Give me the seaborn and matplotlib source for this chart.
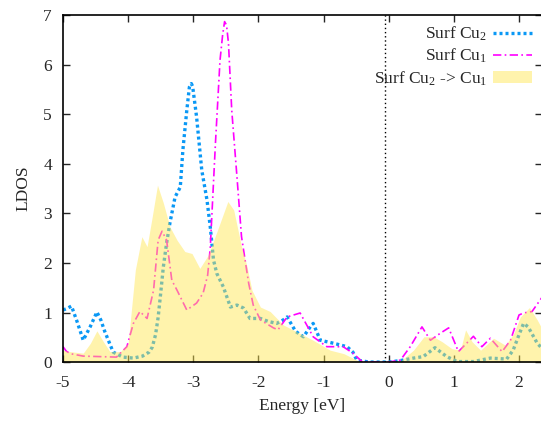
import matplotlib
matplotlib.use("Agg")
import matplotlib.pyplot as plt
import seaborn as sns
import numpy as np
import pandas as pd
from matplotlib.patches import Patch
from matplotlib.lines import Line2D

# Surf Cu2 LDOS (blue dotted)
e_cu2 = [-5.0, -4.94, -4.87, -4.78, -4.69, -4.58, -4.48, -4.42, -4.36, -4.23, -4.08, -3.92, -3.78,
         -3.68, -3.63, -3.58, -3.54, -3.50, -3.46, -3.41, -3.36, -3.28, -3.20, -3.16, -3.10, -3.06,
         -3.03, -3.01, -2.95, -2.87, -2.79, -2.74, -2.69, -2.64, -2.54, -2.43, -2.38, -2.33, -2.23,
         -2.13, -1.97, -1.85, -1.72, -1.62, -1.56, -1.43, -1.31, -1.20, -1.16, -1.05, -0.85,
         -0.64, -0.55, -0.49, -0.3, 0.0, 0.18, 0.38, 0.53, 0.71, 0.89, 1.05,
         1.30, 1.56, 1.81, 1.91, 2.0, 2.07, 2.14, 2.28, 2.35]
ldos_cu2 = [1.05, 1.08, 1.13, 0.8, 0.44, 0.72, 1.01, 0.85, 0.62, 0.2, 0.1, 0.08, 0.12,
            0.2, 0.3, 0.55, 0.9, 1.4, 1.92, 2.4, 2.8, 3.33, 3.53, 4.28, 5.08, 5.55,
            5.62, 5.56, 4.95, 3.87, 3.27, 2.73, 2.06, 1.79, 1.52, 1.11, 1.13, 1.15, 1.09,
            0.88, 0.88, 0.82, 0.78, 0.85, 0.91, 0.62, 0.51, 0.72, 0.78, 0.44, 0.38,
            0.31, 0.2, 0.04, 0.0, 0.0, 0.03, 0.08, 0.11, 0.29, 0.11, 0.01,
            0.01, 0.08, 0.06, 0.24, 0.55, 0.78, 0.71, 0.38, 0.28]

# Surf Cu1 LDOS (magenta dash-dot)
e_cu1 = [-5.0, -4.95, -4.89, -4.69, -4.43, -4.18, -4.02, -3.92, -3.82, -3.71, -3.61, -3.54, -3.48,
         -3.41, -3.33, -3.25, -3.10, -2.95, -2.85, -2.78, -2.74, -2.66, -2.59, -2.55, -2.52, -2.49,
         -2.46, -2.41, -2.33, -2.26, -2.15, -2.08, -1.97, -1.77, -1.70, -1.56, -1.36, -1.16,
         -0.95, -0.70, -0.55, -0.41, -0.2, 0.0, 0.18, 0.33, 0.51, 0.64, 0.79, 0.92, 1.07,
         1.30, 1.43, 1.56, 1.74, 1.87, 2.00, 2.07, 2.20, 2.35]
ldos_cu1 = [0.31, 0.22, 0.17, 0.12, 0.11, 0.10, 0.31, 0.78, 1.02, 0.88, 1.45, 2.46, 2.64,
            2.46, 1.65, 1.45, 1.05, 1.19, 1.39, 1.75, 2.3, 4.42, 6.09, 6.6, 6.87, 6.8,
            6.43, 5.08, 3.74, 2.53, 1.59, 1.15, 0.85, 0.69, 0.65, 0.91, 0.99, 0.51,
            0.31, 0.31, 0.18, 0.01, 0.0, 0.0, 0.04, 0.31, 0.71, 0.44, 0.58, 0.69, 0.21,
            0.52, 0.31, 0.48, 0.21, 0.44, 0.95, 0.99, 1.02, 1.30]

# Surf Cu2 -> Cu1 (yellow filled)
e_fill = [-5.0, -4.89, -4.69, -4.58, -4.48, -4.38, -4.28, -4.12, -4.0, -3.89, -3.79, -3.71,
          -3.64, -3.55, -3.46, -3.36, -3.25, -3.13, -3.02, -2.90, -2.77, -2.61, -2.47, -2.38,
          -2.26, -2.18, -2.10, -1.97, -1.82, -1.62, -1.41, -1.16, -0.90, -0.69, -0.49, -0.44,
          0.0, 0.18, 0.38, 0.54, 0.69, 0.82, 0.97, 1.10, 1.18, 1.28, 1.41, 1.61, 1.79, 1.92,
          2.02, 2.16, 2.28, 2.35]
ldos_fill = [0.24, 0.21, 0.18, 0.38, 0.63, 0.41, 0.21, 0.21, 0.38, 1.86, 2.53, 2.33,
             2.86, 3.57, 3.21, 2.73, 2.46, 2.23, 2.19, 1.89, 2.16, 2.73, 3.24, 3.07,
             2.33, 1.95, 1.45, 1.11, 1.02, 0.75, 0.61, 0.44, 0.24, 0.17, 0.04, 0.0,
             0.0, 0.02, 0.24, 0.51, 0.51, 0.41, 0.27, 0.24, 0.65, 0.41, 0.24, 0.48, 0.34, 0.58,
             0.91, 1.10, 0.85, 0.68]

fermi = -0.05

sns.set_theme(style="ticks")
plt.rcParams["font.family"] = ["Liberation Serif", "DejaVu Serif"]
plt.rcParams["mathtext.fontset"] = "custom"
plt.rcParams["mathtext.rm"] = "Liberation Serif"
plt.rcParams["mathtext.it"] = "Liberation Serif"
plt.rcParams["axes.unicode_minus"] = False

fs = 12.5
fig = plt.figure(figsize=(5.41, 4.21), dpi=100)
ax = fig.add_axes([0.1165, 0.14, 0.885, 0.824])

df2 = pd.DataFrame({"E": e_cu2, "LDOS": ldos_cu2})
df1 = pd.DataFrame({"E": e_cu1, "LDOS": ldos_cu1})

blue = "#0a98f5"
magenta = "#ff00ff"
yellow = "#ffe64f"
dots = (0, (0.9, 0.9))
dashdot = (0, (5, 2, 1, 2))

sns.lineplot(data=df2, x="E", y="LDOS", ax=ax, color=blue, lw=2.4,
             linestyle=dots, estimator=None, sort=False)
sns.lineplot(data=df1, x="E", y="LDOS", ax=ax, color=magenta, lw=1.2,
             linestyle=dashdot, estimator=None, sort=False)
ax.fill_between(e_fill, 0, ldos_fill, color=yellow, alpha=0.47, lw=0, zorder=3)
ax.axvline(fermi, color="black", ls=(0, (1, 2)), lw=1, zorder=4)

ax.set_xlim(-5, 2.35)
ax.set_ylim(0, 7)
ax.set_xticks([-5, -4, -3, -2, -1, 0, 1, 2])
ax.set_yticks(range(8))
ax.tick_params(direction="in", top=True, right=True, length=5, labelsize=fs, width=1)
ax.tick_params(axis="x", pad=9)
ax.tick_params(axis="y", pad=8)
for s in ax.spines.values():
    s.set_linewidth(1.2)
    s.set_color("black")
    s.set_zorder(5)
ax.set_xlabel("Energy [eV]", fontsize=fs, labelpad=5)
ax.set_ylabel("LDOS", fontsize=fs)
ax.yaxis.set_label_coords(-0.066, 0.5)

handles = [Line2D([], [], color=blue, lw=2.4, linestyle=dots),
           Line2D([], [], color=magenta, lw=1.2, linestyle=dashdot),
           Patch(facecolor=yellow, alpha=0.47, lw=0)]
labels = ["Surf Cu$_2$", "Surf Cu$_1$", "Surf Cu$_2$ -> Cu$_1$"]
ax.legend(handles, labels, loc="upper right", markerfirst=False, frameon=False,
          fontsize=fs, handlelength=2.25, handletextpad=0.3, labelspacing=0.22,
          bbox_to_anchor=(0.997, 0.997), borderaxespad=0.1)

fig.savefig("out.png", dpi=100)
